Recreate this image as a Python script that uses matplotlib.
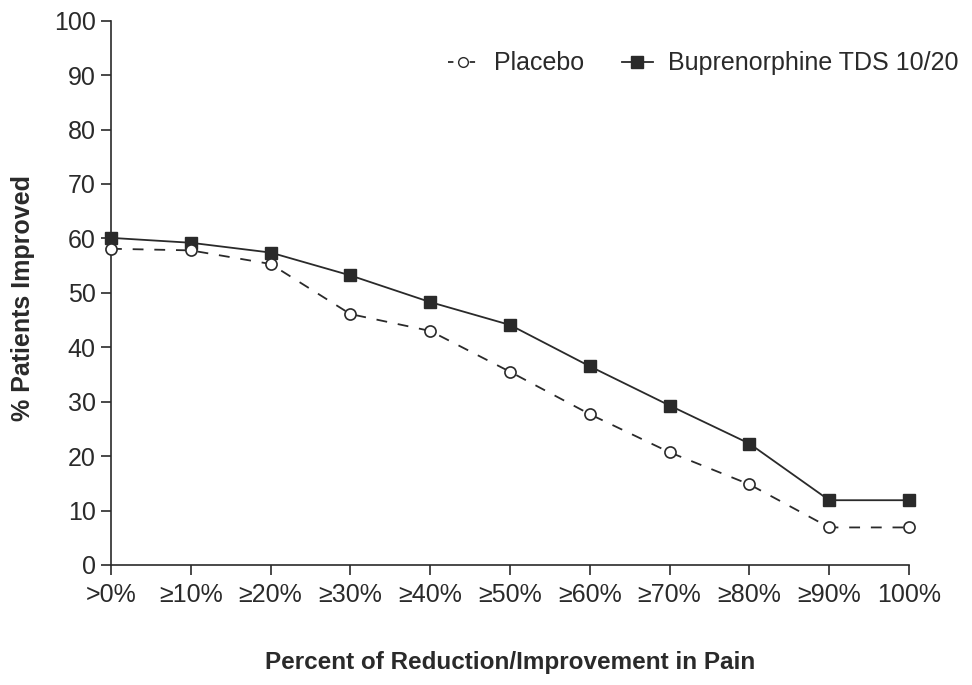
import matplotlib.pyplot as plt
from matplotlib.lines import Line2D

categories = [">0%", "≥10%", "≥20%", "≥30%", "≥40%", "≥50%", "≥60%", "≥70%", "≥80%", "≥90%", "100%"]
placebo = [58.1, 57.8, 55.3, 46.1, 43.0, 35.5, 27.7, 20.7, 14.8, 6.9, 6.9]
bup = [60.1, 59.2, 57.4, 53.2, 48.3, 44.1, 36.5, 29.3, 22.3, 11.9, 11.9]
yticks = [0, 10, 20, 30, 40, 50, 60, 70, 80, 90, 100]

plt.rcParams["font.family"] = ["Liberation Sans Narrow", "Liberation Sans", "DejaVu Sans"]
ink = "#2a2a2a"

fig = plt.figure(figsize=(9.72, 6.85), dpi=100)
ax = fig.add_axes([0.1142, 0.1752, 0.821, 0.7946])

x = list(range(len(categories)))
ax.plot(x, bup, color=ink, lw=1.3, marker="s", ms=9, mfc=ink, mec=ink,
        label="Buprenorphine TDS 10/20", zorder=3)
ax.plot(x, placebo, color=ink, lw=1.3, ls=(0, (6, 6)), marker="o", ms=8,
        mfc="white", mec=ink, mew=1.2, label="Placebo", zorder=4)

ax.set_xlim(0, len(categories) - 1)
ax.set_ylim(0, 100)
ax.set_xticks(x)
ax.set_xticklabels(categories)
ax.set_yticks(yticks)
for s in ["top", "right"]:
    ax.spines[s].set_visible(False)
for s in ["left", "bottom"]:
    ax.spines[s].set_color(ink)
    ax.spines[s].set_linewidth(1.2)
ax.tick_params(axis="both", colors=ink, labelsize=18, width=1.2, length=7)
ax.tick_params(axis="x", pad=6)
ax.tick_params(axis="y", pad=4)
for line in ax.lines:
    line.set_clip_on(False)

ax.set_ylabel("% Patients Improved", fontsize=18, fontweight="bold", color=ink, labelpad=12)
ax.yaxis.set_label_coords(-0.095, 0.49)
ax.set_xlabel("Percent of Reduction/Improvement in Pain", fontsize=17.5, fontweight="bold",
              color=ink, labelpad=32)

handles = [
    Line2D([0], [0], color=ink, lw=1.3, ls=(0, (3, 3)), marker="o", ms=7, mfc="white", mec=ink),
    Line2D([0], [0], color=ink, lw=1.3, marker="s", ms=8, mfc=ink, mec=ink),
]
ax.legend(handles, ["Placebo", "Buprenorphine TDS 10/20"], ncol=2, frameon=False,
          loc="upper right", bbox_to_anchor=(1.09, 0.985), fontsize=18, handlelength=1.25,
          columnspacing=1.5, handletextpad=0.6, labelcolor=ink)

fig.savefig("out.png", dpi=100)
